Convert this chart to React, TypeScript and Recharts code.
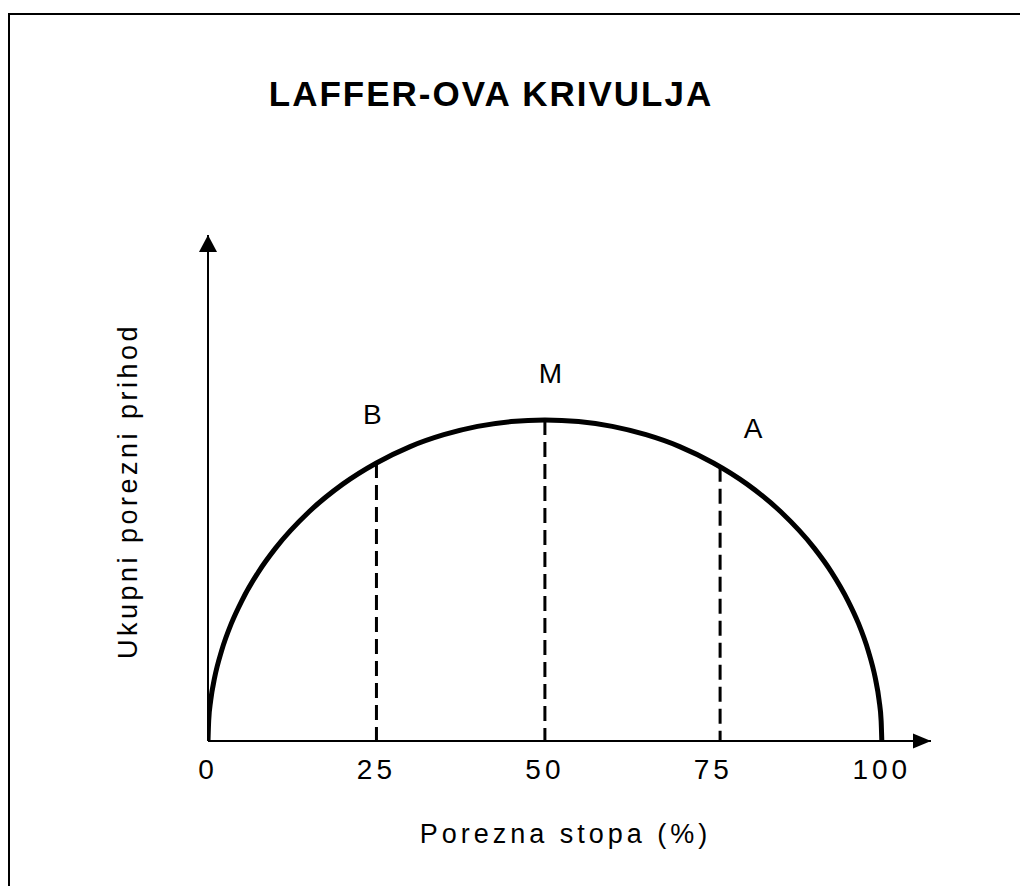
import React from 'react';
import { LineChart, Line, XAxis, YAxis, ReferenceLine, ReferenceDot, Label } from 'recharts';

// Laffer curve: tax rate (%) -> total tax revenue (peak = 100)
const taxRate = [0, 0.1, 0.4, 1, 2, 3.5, 5, 7.5, 10, 15, 20, 25, 30, 35, 40, 45, 50, 55, 60, 65, 70, 75, 80, 85, 90, 92.5, 95, 96.5, 98, 99, 99.6, 99.9, 100];
const revenue = [0, 6.3, 12.6, 19.9, 28, 36.8, 43.6, 52.7, 60, 71.4, 80, 86.6, 91.7, 95.4, 98, 99.5, 100, 99.5, 98, 95.4, 91.7, 86.6, 80, 71.4, 60, 52.7, 43.6, 36.8, 28, 19.9, 12.6, 6.3, 0];

const xTicks = [0, 25, 50, 75, 100];

// dashed drop lines (B, M, A)
const dropRates = [25, 50, 76];
const dropRevenue = [86.6, 100, 85.4];

// point names and where their letters sit
const pointNames = ['B', 'M', 'A'];
const labelRates = [24.4, 50.8, 80.9];
const labelRevenue = [101.8, 114.6, 97.6];

const X_MAX = 107.3;
const Y_MAX = 157.6;

const TITLE = 'LAFFER-OVA KRIVULJA';
const X_TITLE = 'Porezna stopa (%)';
const Y_TITLE = 'Ukupni porezni prihod';

const FONT = '"Liberation Sans", Arial, Helvetica, sans-serif';

const data = taxRate.map((x, i) => ({ x, y: revenue[i] }));

const ArrowRight = (props: any) => {
  const { cx, cy } = props;
  if (cx == null || cy == null) return <g />;
  return <polygon points={`${cx},${cy} ${cx - 18},${cy - 7.5} ${cx - 18},${cy + 7.5}`} fill="#000" />;
};

const ArrowUp = (props: any) => {
  const { cx, cy } = props;
  if (cx == null || cy == null) return <g />;
  return <polygon points={`${cx},${cy} ${cx - 9},${cy + 17} ${cx + 9},${cy + 17}`} fill="#000" />;
};

const XTitle = (props: any) => {
  const vb = props.viewBox || { x: 198, y: 726, width: 723, height: 60 };
  const x = vb.x + vb.width / 2 - 4;
  const y = vb.y + 102;
  return (
    <text x={x} y={y} textAnchor="middle" fill="#000" fontSize={27} fontFamily={FONT} letterSpacing={4}>
      {X_TITLE}
    </text>
  );
};

const YTitle = (props: any) => {
  const vb = props.viewBox || { x: 138, y: 220, width: 60, height: 506 };
  const x = vb.x + (vb.width || 0) - 80;
  const y = vb.y + vb.height / 2 + 3;
  return (
    <text
      x={x}
      y={y}
      transform={`rotate(-90 ${x} ${y})`}
      textAnchor="middle"
      dominantBaseline="central"
      fill="#000"
      fontSize={27}
      fontFamily={FONT}
      letterSpacing={3.5}
    >
      {Y_TITLE}
    </text>
  );
};

export default function App() {
  return (
    <div
      style={{
        marginTop: 5,
        marginBottom: -8,
        width: 1018,
        height: 879,
        borderTop: '2px solid #000',
        borderLeft: '2px solid #000',
        position: 'relative',
        background: '#fff',
      }}
    >
      <LineChart
        width={1018}
        height={879}
        data={data}
        margin={{ top: 220, right: 97, bottom: 93, left: 138 }}
      >
        <XAxis
          type="number"
          dataKey="x"
          domain={[0, X_MAX]}
          allowDataOverflow
          ticks={xTicks}
          interval={0}
          height={60}
          tickLine={false}
          tickSize={0}
          tickMargin={18}
          axisLine={{ stroke: '#000', strokeWidth: 2 }}
          tick={{ fill: '#000', fontSize: 28, fontFamily: FONT, letterSpacing: 4 }}
        >
          <Label content={XTitle} />
        </XAxis>
        <YAxis
          type="number"
          domain={[0, Y_MAX]}
          allowDataOverflow
          width={60}
          tick={false}
          tickLine={false}
          axisLine={{ stroke: '#000', strokeWidth: 2 }}
        >
          <Label content={YTitle} />
        </YAxis>
        {dropRates.map((r, i) => (
          <ReferenceLine
            key={`drop-${i}`}
            segment={[
              { x: r, y: dropRevenue[i] },
              { x: r, y: 0 },
            ]}
            stroke="#000"
            strokeWidth={3}
            strokeDasharray="15 7"
          />
        ))}
        <Line
          dataKey="y"
          type="monotone"
          stroke="#000"
          strokeWidth={5}
          strokeLinecap="round"
          dot={false}
          activeDot={false}
          isAnimationActive={false}
        />
        {pointNames.map((n, i) => (
          <ReferenceDot
            key={`lbl-${n}`}
            x={labelRates[i]}
            y={labelRevenue[i]}
            r={0}
            fill="none"
            stroke="none"
            ifOverflow="visible"
            label={{ value: n, position: 'center', fill: '#000', fontSize: 28, fontFamily: FONT }}
          />
        ))}
        <ReferenceDot x={X_MAX} y={0} r={0} ifOverflow="visible" shape={ArrowRight} />
        <ReferenceDot x={0} y={Y_MAX} r={0} ifOverflow="visible" shape={ArrowUp} />
      </LineChart>
      <svg
        width={1018}
        height={879}
        style={{ position: 'absolute', left: 0, top: 0, pointerEvents: 'none' }}
      >
        <text
          x={481}
          y={91}
          textAnchor="middle"
          fill="#000"
          fontSize={35}
          fontWeight="bold"
          fontFamily={FONT}
          letterSpacing={2}
        >
          {TITLE}
        </text>
      </svg>
    </div>
  );
}
